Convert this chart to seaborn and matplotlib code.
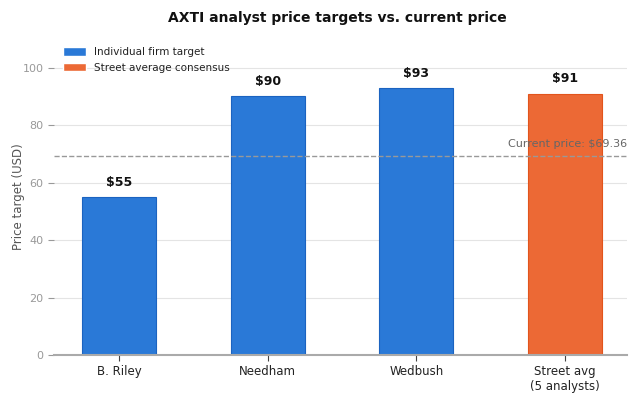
import pandas as pd
import matplotlib
matplotlib.use('Agg')
import matplotlib.pyplot as plt
import seaborn as sns

# Données du graphique
firms = ['B. Riley', 'Needham', 'Wedbush', 'Street avg\n(5 analysts)']
targets = [55, 90, 93, 91]
kinds = ['Individual firm target', 'Individual firm target', 'Individual firm target', 'Street average consensus']
current_price = 69.36

df = pd.DataFrame({'firm': firms, 'target': targets, 'kind': kinds})

sns.set_theme(style='white')
plt.rcParams['font.family'] = ['DejaVu Sans']

fig = plt.figure(figsize=(6.4, 4.0), dpi=100)
ax = fig.add_axes([0.084, 0.1125, 0.896, 0.79])

palette = {'Individual firm target': '#2a79d7', 'Street average consensus': '#ec6935'}
sns.barplot(data=df, x='firm', y='target', hue='kind', palette=palette, dodge=False,
            width=0.5, ax=ax, saturation=1)

# Bordures des barres
edge = {'Individual firm target': '#1b63c0', 'Street average consensus': '#e2541c'}
for container, k in zip(ax.containers, palette.keys()):
    for bar in container:
        bar.set_edgecolor(edge[k])
        bar.set_linewidth(0.8)
    labels = [f'${v:.0f}' if v == v else '' for v in container.datavalues]
    ax.bar_label(container, labels=labels, padding=6, fontsize=9, fontweight='bold', color='#111111')

ax.axhline(current_price, color='#999999', linestyle='--', linewidth=1, zorder=1)
ax.text(1.0, current_price + 2.5, f'Current price: ${current_price}', transform=ax.get_yaxis_transform(),
        ha='right', va='bottom', fontsize=8, color='#666666')

ax.set_ylim(0, 110)
ax.set_xlim(-0.44, 3.42)
ax.set_yticks([0, 20, 40, 60, 80, 100])
ax.yaxis.grid(True, color='#e4e4e4', linewidth=0.8)
ax.set_axisbelow(True)
ax.set_xlabel('')
ax.set_ylabel('Price target (USD)', fontsize=8.5, color='#555555')
ax.yaxis.set_label_coords(-0.05, 0.5)
ax.tick_params(axis='y', colors='#999999', labelsize=8, length=4, width=0.8, left=True)
ax.tick_params(axis='x', colors='#444444', labelsize=8.5, length=4, width=0.8, bottom=True)
for lbl in ax.get_xticklabels():
    lbl.set_color('#222222')

for s in ['top', 'right', 'left']:
    ax.spines[s].set_visible(False)
ax.spines['bottom'].set_color('#aaaaaa')
ax.spines['bottom'].set_linewidth(1.5)

leg = ax.legend(loc='upper left', bbox_to_anchor=(0.005, 0.995), frameon=False, fontsize=7.5,
                handlelength=2.2, handleheight=0.9, borderaxespad=0.2, labelspacing=0.55)
for t in leg.get_texts():
    t.set_color('#222222')

fig.text(0.527, 0.955, 'AXTI analyst price targets vs. current price', fontsize=10,
         fontweight='bold', color='#111111', ha='center', va='center')

fig.savefig('out.png', dpi=100)
